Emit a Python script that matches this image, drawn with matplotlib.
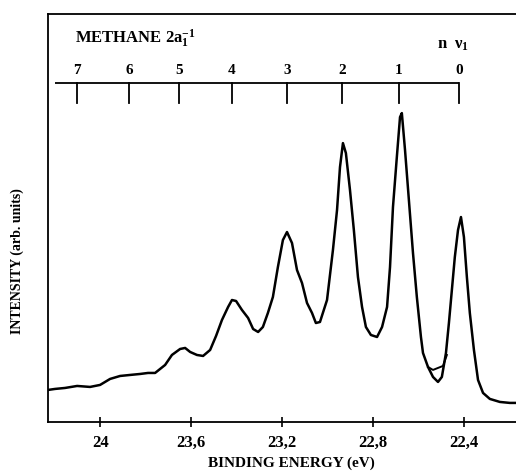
''' methane 2a1^-1 photoelectron spectrum '''
import matplotlib
matplotlib.use('Agg')
import matplotlib.pyplot as plt
import matplotlib.transforms as mtransforms

# binding energy (eV) and intensity (arb. units)
energy = [
    24.229, 24.198, 24.154, 24.101, 24.044, 24.000, 23.956, 23.912, 23.868,
    23.824, 23.789, 23.758, 23.714, 23.684, 23.648, 23.626, 23.604, 23.574,
    23.547, 23.516, 23.490, 23.464, 23.437, 23.420, 23.402, 23.376, 23.349,
    23.327, 23.305, 23.284, 23.262, 23.240, 23.218, 23.196, 23.178, 23.156,
    23.134, 23.112, 23.090, 23.068, 23.051, 23.033, 23.002, 22.976, 22.958,
    22.945, 22.932, 22.919, 22.901, 22.884, 22.866, 22.848, 22.831, 22.809,
    22.782, 22.760, 22.738, 22.725, 22.712, 22.695, 22.681, 22.673, 22.659,
    22.642, 22.624, 22.607, 22.589, 22.580, 22.558, 22.536, 22.514, 22.497,
    22.479, 22.466, 22.453, 22.440, 22.426, 22.413, 22.400, 22.387, 22.374,
    22.356, 22.338, 22.316, 22.286, 22.242, 22.198, 22.171,
]
intensity = [
    7.84, 8.09, 8.33, 8.82, 8.58, 9.07, 10.54, 11.27, 11.52,
    11.76, 12.01, 12.01, 13.97, 16.42, 17.89, 18.14, 17.16, 16.42,
    16.18, 17.65, 21.08, 25.00, 28.19, 29.90, 29.66, 27.45, 25.49,
    22.79, 22.06, 23.28, 26.72, 30.64, 37.99, 44.61, 46.57, 43.87,
    37.25, 34.07, 29.17, 26.72, 24.26, 24.51, 29.90, 42.16, 51.96,
    62.50, 68.38, 65.93, 56.86, 47.06, 35.54, 28.19, 23.28, 21.32,
    20.83, 23.28, 28.19, 37.99, 52.70, 64.95, 74.76, 75.74, 66.67,
    54.41, 41.42, 30.64, 20.83, 16.91, 13.48, 11.03, 9.80, 11.03,
    16.91, 24.26, 32.35, 40.44, 47.06, 50.25, 45.34, 35.54, 26.72,
    17.65, 10.29, 7.11, 5.64, 4.90, 4.66, 4.66,
]

# second pass of the scan in the valley before the 0 line
energy_b = [22.558, 22.536, 22.514, 22.492, 22.475]
intensity_b = [13.48, 12.75, 13.24, 13.73, 16.42]

# vibrational progression n v1
levels = ['7', '6', '5', '4', '3', '2', '1', '0']
level_energy = [24.101, 23.873, 23.653, 23.420, 23.178, 22.936, 22.686, 22.422]

xticks = [24.0, 23.6, 23.2, 22.8, 22.4]
xtick_labels = ['24', '23,6', '23,2', '22,8', '22,4']


def main():
    ''' draw and save '''
    plt.rcParams['font.family'] = ['Liberation Serif', 'DejaVu Serif']
    plt.rcParams['font.weight'] = 'bold'
    plt.rcParams['mathtext.fontset'] = 'custom'
    plt.rcParams['mathtext.rm'] = 'Liberation Serif:bold'
    plt.rcParams['mathtext.it'] = 'Liberation Serif:bold'
    plt.rcParams['mathtext.bf'] = 'Liberation Serif:bold'

    fig = plt.figure(figsize=(5.16, 4.73), dpi=100)
    ax = fig.add_axes([0.093, 0.108, 0.907, 0.862])

    ax.plot(energy, intensity, color='black', lw=1.8)
    ax.plot(energy_b, intensity_b, color='black', lw=1.4)

    ax.set_xlim(24.229, 22.171)
    ax.set_ylim(0, 100)
    ax.set_yticks([])
    ax.set_xticks(xticks)
    ax.set_xticklabels(xtick_labels, fontsize=12, fontweight='bold')
    ax.tick_params(axis='x', direction='inout', length=7, width=1.2,
                   pad=6)
    for side in ['left', 'bottom', 'top']:
        ax.spines[side].set_linewidth(1.3)
    ax.spines['right'].set_visible(False)

    ax.set_xlabel('BINDING ENERGY (eV)', fontsize=11, fontweight='bold')
    ax.xaxis.set_label_coords(0.521, -0.084)
    ax.set_ylabel('INTENSITY (arb. units)', fontsize=10, fontweight='bold')
    ax.yaxis.set_label_coords(-0.052, 0.395)

    # vibrational scale at the top
    trans = mtransforms.blended_transform_factory(ax.transData, ax.transAxes)
    ax.plot([24.198, level_energy[-1]], [0.831, 0.831], color='black',
            lw=1.3, transform=trans, solid_capstyle='butt')
    for lab, e in zip(levels, level_energy):
        ax.plot([e, e], [0.831, 0.782], color='black', lw=1.3,
                transform=trans)
        ax.text(e, 0.845, lab, transform=trans, ha='center', va='bottom',
                fontsize=11, fontweight='bold')

    ax.text(0.058, 0.94, r'METHANE 2a$_1^{-1}$', transform=ax.transAxes,
            fontsize=12, fontweight='bold', va='center')
    ax.text(0.832, 0.925, r'n  $\nu_1$', transform=ax.transAxes,
            fontsize=12, fontweight='bold', va='center')

    fig.savefig('out.png', dpi=100)


if __name__ == '__main__':
    main()
